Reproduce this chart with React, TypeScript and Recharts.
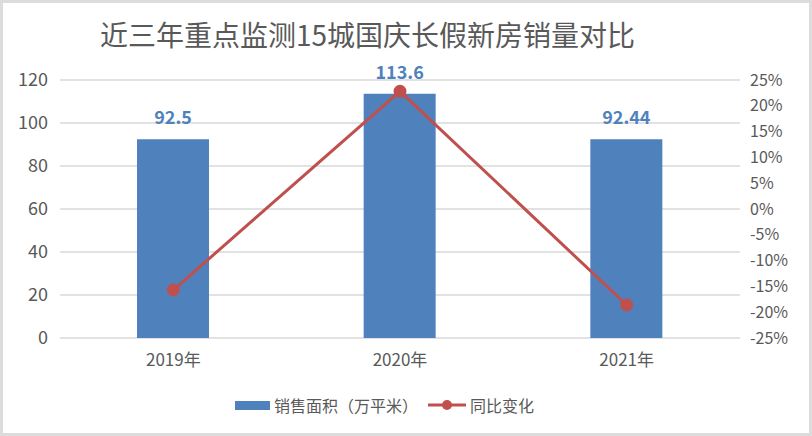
import React from 'react';
import { ComposedChart, Bar, Line, XAxis, YAxis, CartesianGrid, LabelList } from 'recharts';

const years = ['2019年', '2020年', '2021年'];
const salesArea = [92.5, 113.6, 92.44]; // 销售面积（万平米）
const yoyChange = [-15.7, 22.8, -18.6]; // 同比变化 (%)
const leftTicks = [0, 20, 40, 60, 80, 100, 120];
const rightTicks = [-25, -20, -15, -10, -5, 0, 5, 10, 15, 20, 25];

const data = years.map((year, i) => ({ year, area: salesArea[i], yoy: yoyChange[i] }));

const FONT = '"Noto Sans CJK SC", "Noto Sans", sans-serif';
const BLUE = '#4f81bd';
const RED = '#c0504d';
const GREY = '#595959';

const LegendBox = () => (
  <div style={{ position: 'absolute', left: 232, top: 394, display: 'flex', alignItems: 'center', fontFamily: FONT, fontSize: 16, lineHeight: 1, color: GREY }}>
    <span style={{ display: 'inline-block', width: 35, height: 9, background: BLUE, marginRight: 4 }} />
    <span style={{ marginRight: 10 }}>销售面积（万平米）</span>
    <svg width={38} height={12} style={{ marginRight: 4 }}>
      <line x1={0} y1={6} x2={38} y2={6} stroke={RED} strokeWidth={3} />
      <circle cx={19} cy={6} r={5} fill={RED} />
    </svg>
    <span>同比变化</span>
  </div>
);

const App: React.FC = () => {
  return (
    <div style={{ position: 'relative', width: 812, height: 436, boxSizing: 'border-box', border: '3px solid #dcdcdc', background: '#fff', overflow: 'hidden' }}>
      <style>{'body{margin:0}'}</style>
      <div style={{ position: 'absolute', left: 97, top: 17, fontFamily: FONT, fontSize: 28, lineHeight: 1, color: GREY, whiteSpace: 'nowrap' }}>
        近三年重点监测15城国庆长假新房销量对比
      </div>
      <div style={{ position: 'absolute', left: -3, top: -3 }}>
        <ComposedChart width={812} height={436} data={data} margin={{ top: 80, right: 0, bottom: 68, left: 0 }}>
          <CartesianGrid yAxisId="left" vertical={false} stroke="#d9d9d9" strokeWidth={1.5} />
          <XAxis
            dataKey="year"
            axisLine={false}
            tickLine={false}
            height={30}
            tick={{ fill: GREY, fontSize: 17, fontFamily: FONT }}
            tickMargin={10}
          />
          <YAxis
            yAxisId="left"
            width={60}
            domain={[0, 120]}
            ticks={leftTicks}
            axisLine={false}
            tickLine={false}
            tickMargin={6}
            tick={{ fill: GREY, fontSize: 18, fontFamily: FONT }}
          />
          <YAxis
            yAxisId="right"
            orientation="right"
            width={72}
            domain={[-25, 25]}
            ticks={rightTicks}
            interval={0}
            axisLine={false}
            tickLine={false}
            tickMargin={4}
            tickFormatter={(v: number) => `${v}%`}
            tick={{ fill: GREY, fontSize: 16, fontFamily: FONT }}
          />
          <Bar yAxisId="left" dataKey="area" fill={BLUE} barSize={72} isAnimationActive={false}>
            <LabelList dataKey="area" position="top" offset={15} fill={BLUE} fontSize={18} fontWeight="bold" fontFamily={FONT} />
          </Bar>
          <Line
            yAxisId="right"
            dataKey="yoy"
            stroke={RED}
            strokeWidth={3}
            dot={{ r: 5, fill: RED, stroke: RED }}
            isAnimationActive={false}
          />
        </ComposedChart>
      </div>
      <LegendBox />
    </div>
  );
};

export default App;
